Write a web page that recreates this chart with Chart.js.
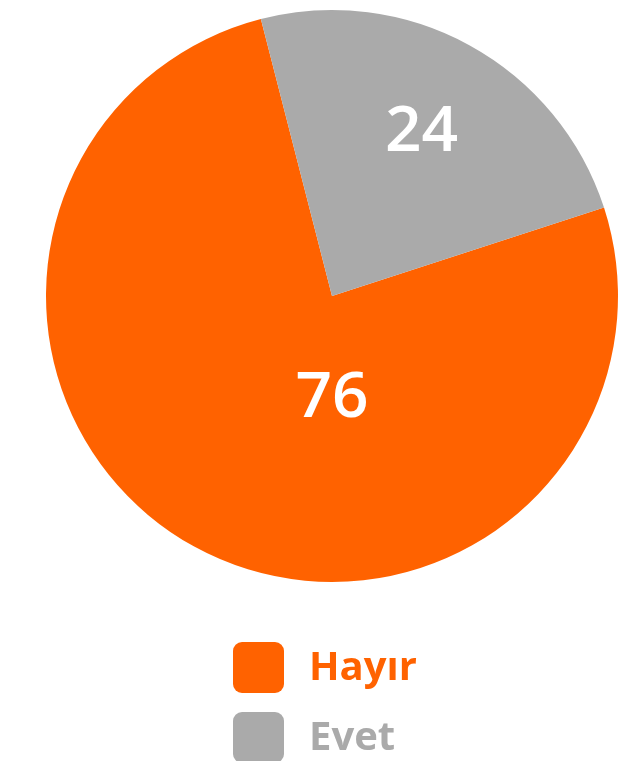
<!DOCTYPE html>
<html>
<head>
<meta charset="utf-8">
<script src="https://cdn.jsdelivr.net/npm/chart.js@4/dist/chart.umd.min.js"></script>
<style>
  html, body { margin: 0; padding: 0; background: #ffffff; }
  #wrap { width: 635px; height: 761px; position: relative; }
</style>
</head>
<body>
<div id="wrap"><canvas id="c" width="635" height="761"></canvas></div>
<script>
const categories = ['Hayır', 'Evet'];
const values = [76, 24];
const colors = ['#FF6200', '#AAAAAA'];

const FONT = '"Open Sans", "Noto Sans", sans-serif';

// value labels inside the slices
const valueLabels = {
  id: 'valueLabels',
  afterDatasetsDraw(chart) {
    const ctx = chart.ctx;
    const meta = chart.getDatasetMeta(0);
    const max = Math.max(...values);
    ctx.save();
    ctx.fillStyle = '#FFFFFF';
    ctx.font = '600 64px ' + FONT;
    ctx.textAlign = 'center';
    ctx.textBaseline = 'middle';
    meta.data.forEach((arc, i) => {
      const p = arc.getProps(['x', 'y', 'startAngle', 'endAngle', 'outerRadius'], true);
      let ang, dist;
      if (values[i] === max) {
        ang = Math.PI / 2;           // largest slice label straight below centre
        dist = p.outerRadius * 0.36;
      } else {
        ang = (p.startAngle + p.endAngle) / 2;
        dist = p.outerRadius * 0.65;
      }
      ctx.fillText(String(values[i]), p.x + Math.cos(ang) * dist, p.y + Math.sin(ang) * dist);
    });
    ctx.restore();
  }
};

// vertical legend below the pie
const stackedLegend = {
  id: 'stackedLegend',
  afterDraw(chart) {
    const ctx = chart.ctx;
    const box = 51, left = 233, top0 = 642, step = 70;
    ctx.save();
    ctx.font = '700 40px ' + FONT;
    ctx.textAlign = 'left';
    ctx.textBaseline = 'middle';
    categories.forEach((name, i) => {
      const y = top0 + i * step;
      ctx.fillStyle = colors[i];
      ctx.beginPath();
      ctx.roundRect(left, y, box, box, 9);
      ctx.fill();
      ctx.fillText(name, left + box + 25, y + box / 2 + 1);
    });
    ctx.restore();
  }
};

new Chart(document.getElementById('c'), {
  type: 'pie',
  data: {
    labels: categories,
    datasets: [{
      data: values,
      backgroundColor: colors,
      borderWidth: 0,
      hoverOffset: 0
    }]
  },
  options: {
    responsive: false,
    animation: false,
    rotation: 72,
    layout: { padding: { top: 10, bottom: 179, left: 29, right: 0 } },
    plugins: {
      legend: { display: false },
      tooltip: { enabled: false }
    },
    events: []
  },
  plugins: [valueLabels, stackedLegend]
});
</script>
</body>
</html>
